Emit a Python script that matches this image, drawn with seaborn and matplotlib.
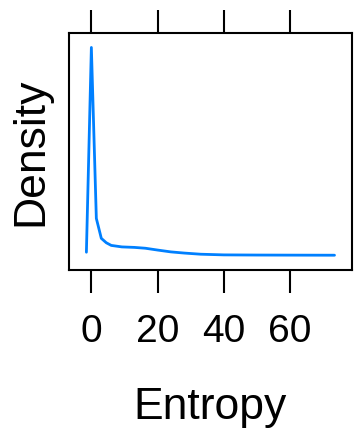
import matplotlib
matplotlib.use("Agg")
import matplotlib.pyplot as plt
import seaborn as sns
import pandas as pd

entropy = [-1.5, 0.0, 1.5, 3.0, 4.5, 6.0, 9.2, 13.0, 16.3, 20.0, 24.0, 28.0, 33.0, 40.0, 50.0, 60.0, 73.4]
density = [0.0036, 0.250, 0.0443, 0.0203, 0.0150, 0.0118, 0.0100, 0.0094, 0.0084, 0.0062, 0.0040, 0.0026, 0.0012, 0.0004, 0.0002, 0.0001, 0.0]
xticks = [0, 20, 40, 60]

sns.set_style("white")
plt.rcParams['font.family'] = ['Liberation Sans', 'DejaVu Sans']
plt.rcParams.update({"text.color": "black", "axes.labelcolor": "black",
                     "xtick.color": "black", "ytick.color": "black"})

df = pd.DataFrame({"Entropy": entropy, "Density": density})

fig = plt.figure(figsize=(3.54, 4.33), dpi=100)
ax = fig.add_axes([0.195, 0.377, 0.799, 0.547])
sns.lineplot(data=df, x="Entropy", y="Density", ax=ax, color="#0080ff", linewidth=2.0, sort=False)

xr = max(entropy) - min(entropy)
ax.set_xlim(min(entropy) - 0.07 * xr, max(entropy) + 0.07 * xr)
yr = max(density) - min(density)
ax.set_ylim(min(density) - 0.07 * yr, max(density) + 0.07 * yr)

ax.set_xticks(xticks)
ax.set_xticklabels([str(t) for t in xticks], fontsize=28, color="black")
ax.set_yticks([])
ax.tick_params(axis="x", which="both", direction="out", length=16.5, width=1.5, colors="black",
               pad=15, top=True, bottom=True, labeltop=False)
for s in ax.spines.values():
    s.set_visible(True)
    s.set_color("black")
    s.set_linewidth(1.5)

ax.set_xlabel("Entropy", fontsize=32, labelpad=27, color="black")
ax.set_ylabel("Density", fontsize=32, labelpad=13, color="black")

fig.savefig("out.png", dpi=100)
